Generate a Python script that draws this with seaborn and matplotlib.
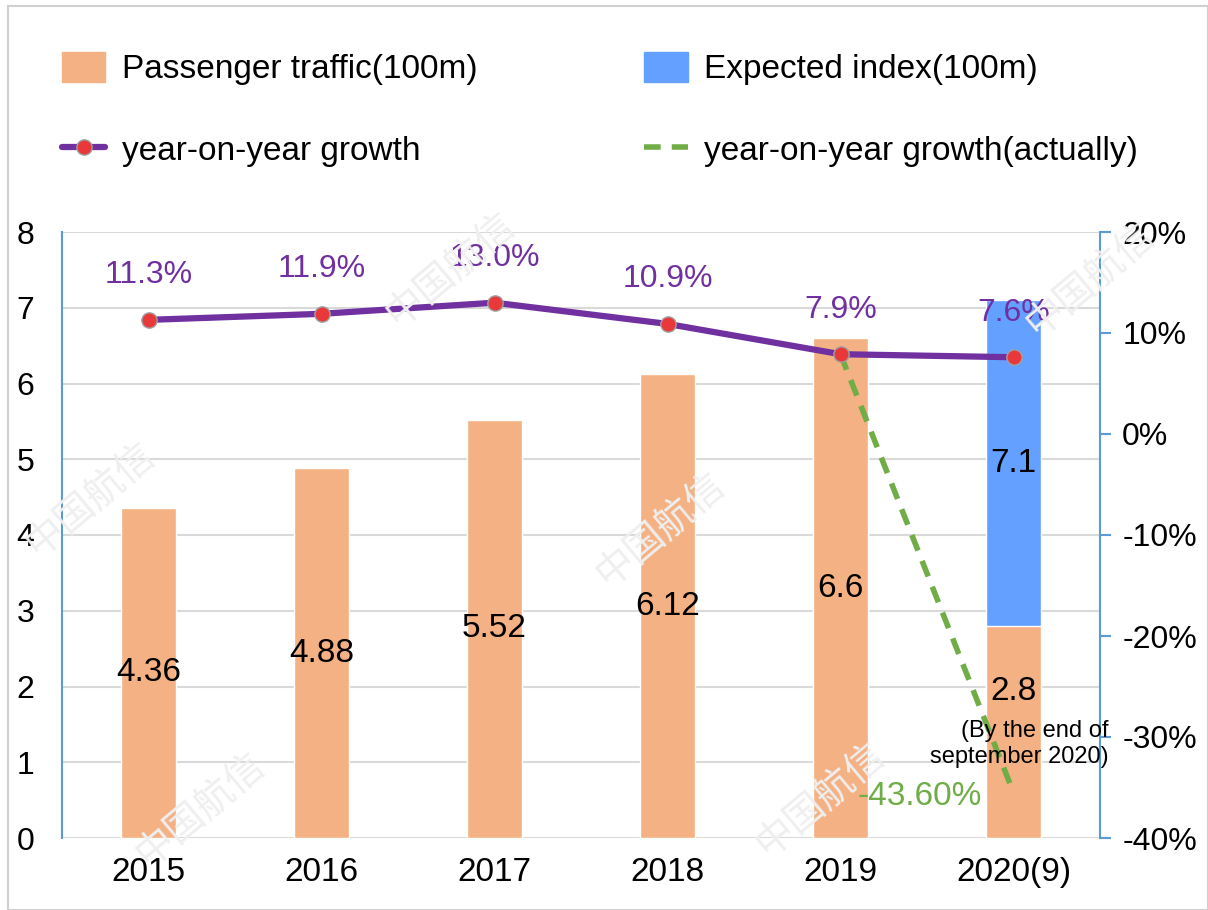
import matplotlib
matplotlib.use("Agg")
import matplotlib.pyplot as plt
import seaborn as sns
import pandas as pd
from matplotlib.lines import Line2D
from matplotlib.patches import Patch, Rectangle
from matplotlib.ticker import FuncFormatter

# data
years = ["2015", "2016", "2017", "2018", "2019", "2020(9)"]
traffic = [4.36, 4.88, 5.52, 6.12, 6.6, 2.8]
expected = [None, None, None, None, None, 7.1]
growth = [11.3, 11.9, 13.0, 10.9, 7.9, 7.6]
growth_labels = ["11.3%", "11.9%", "13.0%", "10.9%", "7.9%", "7.6%"]
actual_years = ["2019", "2020(9)"]
actual_growth = [7.9, -35.5]
actual_label = "-43.60%"

ORANGE = "#F4B183"
BLUE = "#64A0FF"
PURPLE = "#7030A0"
GREEN = "#70AD47"
SPINE = "#5B9BD5"

sns.set_style("white")
plt.rcParams["font.family"] = ["Liberation Sans", "DejaVu Sans"]
plt.rcParams["text.color"] = "black"
plt.rcParams["xtick.color"] = "black"
plt.rcParams["ytick.color"] = "black"

fig = plt.figure(figsize=(12.08, 9.1), dpi=100)

# faint watermark behind everything
for wx, wy in [(450, 270), (1090, 280), (90, 500), (660, 530),
               (200, 810), (820, 800)]:
    fig.text(wx / 1208, 1 - wy / 910, "中国航信", rotation=40, fontsize=28,
             color="#efefef", ha="center", va="center",
             family=["Noto Sans CJK SC", "DejaVu Sans"], zorder=0)

ax = fig.add_axes([62 / 1208, 1 - 838 / 910, 1038 / 1208, 606 / 910])
ax.patch.set_alpha(0)

df = pd.DataFrame({"year": years, "traffic": traffic, "expected": expected})
sns.barplot(data=df, x="year", y="expected", color=BLUE, width=0.32,
            saturation=1, ax=ax)
sns.barplot(data=df, x="year", y="traffic", color=ORANGE, width=0.32,
            saturation=1, ax=ax)

ax.set_xlim(-0.5, 5.5)
ax.set_ylim(0, 8)
ax.set_yticks(range(0, 9))
ax.set_xlabel("")
ax.set_ylabel("")
ax.yaxis.grid(True, color="#d9d9d9", linewidth=1.5)
ax.set_axisbelow(True)
for s in ["top", "bottom", "right"]:
    ax.spines[s].set_visible(False)
ax.spines["left"].set_color(SPINE)
ax.spines["left"].set_linewidth(1.5)
ax.tick_params(axis="y", length=0, pad=20, labelsize=23)
ax.tick_params(axis="x", length=0, pad=14, labelsize=24)

# values inside the bars
for i, v in enumerate(traffic[:5]):
    ax.text(i, v / 2, f"{v:g}", ha="center", va="center", fontsize=24)
ax.text(5, 1.93, f"{traffic[5]:g}", ha="center", va="center", fontsize=24)
ax.text(5, (traffic[5] + expected[5]) / 2, f"{expected[5]:g}",
        ha="center", va="center", fontsize=24)

# growth on the right axis
ax2 = ax.twinx()
gdf = pd.DataFrame({"x": range(len(years)), "g": growth})
sns.lineplot(data=gdf, x="x", y="g", color=PURPLE, linewidth=4.5,
             marker="o", markersize=11, markerfacecolor="#E8383A",
             markeredgecolor="#a0a0a0", markeredgewidth=1, ax=ax2, zorder=4)
adf = pd.DataFrame({"x": [years.index(y) for y in actual_years], "g": actual_growth})
sns.lineplot(data=adf, x="x", y="g", color=GREEN, linewidth=4,
             linestyle=(0, (3, 2)), ax=ax2, zorder=3)

ax2.set_xlim(-0.5, 5.5)
ax2.set_ylim(-40, 20)
ax2.set_yticks(range(-40, 21, 10))
ax2.yaxis.set_major_formatter(FuncFormatter(lambda v, p: f"{v:.0f}%"))
ax2.set_xlabel("")
ax2.set_ylabel("")
for s in ["top", "bottom", "left"]:
    ax2.spines[s].set_visible(False)
ax2.spines["right"].set_color(SPINE)
ax2.spines["right"].set_linewidth(1.5)
ax2.tick_params(axis="y", direction="out", length=8, width=1.5, color=SPINE,
                pad=8, labelsize=23, labelcolor="black")

for i, (g, lab) in enumerate(zip(growth, growth_labels)):
    ax2.annotate(lab, (i, g), xytext=(0, 32), textcoords="offset points",
                 ha="center", va="center", color=PURPLE, fontsize=23)
ax2.text(4.46, -35.9, actual_label, ha="center", va="center", color=GREEN,
         fontsize=24)
ax2.text(5.55, -30.7, "(By the end of\nseptember 2020)", ha="right",
         va="center", fontsize=17, linespacing=1.25)

# legend
handles = [
    Patch(color=ORANGE, label="Passenger traffic(100m)"),
    Line2D([], [], color=PURPLE, linewidth=4.5, marker="o", markersize=11,
           markerfacecolor="#E8383A", markeredgecolor="#a0a0a0",
           label="year-on-year growth"),
    Patch(color=BLUE, label="Expected index(100m)"),
    Line2D([], [], color=GREEN, linewidth=4, linestyle=(0, (3, 2)),
           label="year-on-year growth(actually)"),
]
fig.legend(handles=handles, ncol=2, loc="upper left",
           bbox_to_anchor=(32 / 1208, 1 - 22 / 910), frameon=False,
           fontsize=24, handlelength=1.3, handleheight=1.0,
           handletextpad=0.5, columnspacing=5.0, labelspacing=1.45)

fig.patches.append(Rectangle((8 / 1208, 0), 1 - 8 / 1208, 1 - 6 / 910,
                             transform=fig.transFigure, fill=False,
                             edgecolor="#d0d0d0", linewidth=1.5))

fig.savefig("out.png", dpi=100)
